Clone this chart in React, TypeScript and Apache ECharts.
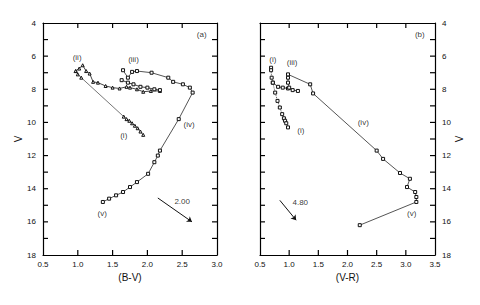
import React, { useEffect, useRef } from "react";
import * as echarts from "echarts";

// ---------- Panel (a): V vs (B-V) ----------
const aTrackI_x = [0.97, 1.0, 1.05, 1.66, 1.7, 1.74, 1.78, 1.82, 1.86, 1.9, 1.94];
const aTrackI_y = [6.9, 7.1, 7.3, 9.65, 9.8, 9.9, 10.05, 10.2, 10.35, 10.55, 10.75];

const aBand_x = [0.97, 1.02, 1.07, 1.12, 1.17, 1.22, 1.29, 1.4, 1.5, 1.6, 1.7, 1.75, 1.85, 1.94, 2.05, 2.18];
const aBand_y = [6.9, 6.75, 6.55, 6.9, 7.05, 7.55, 7.6, 7.8, 7.9, 7.95, 7.85, 7.9, 8.0, 8.15, 8.1, 8.1];

const aBand2_x = [1.63, 1.72, 1.8, 1.9, 2.0, 2.1, 2.18];
const aBand2_y = [7.45, 7.6, 7.7, 7.85, 7.9, 8.0, 8.05];

const aTrackIII_x = [1.65, 1.72, 1.78, 1.85, 2.06, 2.3, 2.37, 2.51, 2.61, 2.65, 2.45, 2.18, 2.15, 2.1, 2.01, 1.85, 1.75, 1.65, 1.55, 1.45, 1.36];
const aTrackIII_y = [6.85, 7.3, 6.95, 6.9, 7.0, 7.3, 7.55, 7.7, 7.9, 8.2, 9.8, 11.7, 12.0, 12.4, 13.1, 13.6, 13.9, 14.2, 14.4, 14.6, 14.8];

const aLabels = ["(ii)", "(iii)", "(i)", "(iv)", "(v)", "(a)", "2.00"];
const aLabel_x = [0.99, 1.8, 1.66, 2.6, 1.35, 2.78, 2.5];
const aLabel_y = [6.1, 6.2, 10.8, 10.1, 15.5, 4.7, 14.8];

const aArrow_x = [2.15, 2.64];
const aArrow_y = [14.56, 16.0];

// ---------- Panel (b): V vs (V-R) ----------
const bTrackI_x = [0.69, 0.69, 0.7, 0.72, 0.76, 0.8, 0.84, 0.88, 0.91, 0.93, 0.95, 0.98];
const bTrackI_y = [6.7, 6.85, 7.3, 7.6, 8.2, 8.7, 9.1, 9.5, 9.75, 9.9, 10.05, 10.3];

const bBand_x = [0.72, 0.81, 0.89, 0.98, 1.06, 1.15];
const bBand_y = [7.6, 7.85, 7.9, 7.95, 8.05, 8.1];

const bTrackIII_x = [1.0, 0.98, 0.98, 0.98, 1.36, 1.41, 2.5, 2.61, 2.9, 3.07, 3.02, 3.16, 3.18, 3.18, 2.21];
const bTrackIII_y = [7.9, 7.6, 7.3, 7.1, 7.7, 8.25, 11.7, 12.2, 13.05, 13.4, 13.9, 14.2, 14.5, 14.8, 16.2];

const bLabels = ["(i)", "(iii)", "(i)", "(iv)", "(v)", "(b)", "4.80"];
const bLabel_x = [0.72, 1.05, 1.2, 2.27, 3.1, 3.24, 1.19];
const bLabel_y = [6.2, 6.4, 10.5, 10.0, 15.5, 4.7, 14.85];

const bArrow_x = [0.84, 1.12];
const bArrow_y = [14.7, 15.9];

// ---------- Axes ----------
const yMin = 4;
const yMax = 18;
const aXMin = 0.5;
const aXMax = 3.0;
const bXMin = 0.5;
const bXMax = 3.5;
const xStep = 0.5;
const yTickVals = [5, 6, 7, 8, 9, 10, 11, 12, 13, 14, 15, 16, 17];
const aXTickVals = [1.0, 1.5, 2.0, 2.5];
const bXTickVals = [1.0, 1.5, 2.0, 2.5, 3.0];
const aXName = "(B-V)";
const bXName = "(V-R)";
const yName = "V";

const zip = (xs: number[], ys: number[]) => xs.map((x, i) => [x, ys[i]]);

const FONT = "Liberation Sans, Arial, sans-serif";
const INK = "#111";
const TICK = 5;

function xAx(grid: number, min: number, max: number, pos: "top" | "bottom", name?: string) {
  return {
    type: "value",
    gridIndex: grid,
    position: pos,
    min,
    max,
    interval: xStep,
    name: name || "",
    nameLocation: "middle",
    nameGap: 15,
    nameTextStyle: { fontFamily: FONT, fontSize: 10, color: INK },
    axisLine: { show: true, onZero: false, lineStyle: { color: "#000", width: 1.2 } },
    axisTick: { show: false },
    axisLabel: {
      show: pos === "bottom",
      fontFamily: FONT,
      fontSize: 8,
      color: INK,
      margin: 5,
      formatter: (v: number) => v.toFixed(1),
    },
    splitLine: { show: false },
  };
}

function yAx(grid: number, pos: "left" | "right", labels: boolean, gap: number) {
  return {
    type: "value",
    gridIndex: grid,
    position: pos,
    inverse: true,
    min: yMin,
    max: yMax,
    interval: 1,
    name: labels ? yName : "",
    nameLocation: "middle",
    nameGap: gap,
    nameRotate: 90,
    nameTextStyle: { fontFamily: FONT, fontSize: 10, color: INK },
    axisLine: { show: true, onZero: false, lineStyle: { color: "#000", width: 1.2 } },
    axisTick: { show: false },
    axisLabel: {
      show: labels,
      fontFamily: FONT,
      fontSize: 8,
      color: INK,
      margin: 7,
      formatter: (v: number) => (v % 2 === 0 ? String(v) : ""),
    },
    splitLine: { show: false },
  };
}

// inward tick marks on both sides of a panel, drawn as thin filled rects placed through the axes
function yTicks(xi: number, yi: number, xmin: number, xmax: number) {
  return {
    type: "custom",
    xAxisIndex: xi,
    yAxisIndex: yi,
    clip: false,
    silent: true,
    data: yTickVals.map((v) => [xmin, v]),
    renderItem: (_p: any, api: any) => {
      const v = api.value(1);
      const a = api.coord([xmin, v]);
      const b = api.coord([xmax, v]);
      const st = { fill: "#000" };
      return {
        type: "group",
        children: [
          { type: "rect", shape: { x: a[0], y: a[1] - 0.6, width: TICK, height: 1.2 }, style: st },
          { type: "rect", shape: { x: b[0] - TICK, y: b[1] - 0.6, width: TICK, height: 1.2 }, style: st },
        ],
      };
    },
    z: 6,
  };
}

function xTicks(xi: number, yi: number, vals: number[]) {
  return {
    type: "custom",
    xAxisIndex: xi,
    yAxisIndex: yi,
    clip: false,
    silent: true,
    data: vals.map((v) => [v, 10]),
    renderItem: (_p: any, api: any) => {
      const v = api.value(0);
      const a = api.coord([v, yMin]);
      const b = api.coord([v, yMax]);
      const st = { fill: "#000" };
      return {
        type: "group",
        children: [
          { type: "rect", shape: { x: a[0] - 0.6, y: a[1], width: 1.2, height: TICK }, style: st },
          { type: "rect", shape: { x: b[0] - 0.6, y: b[1] - TICK, width: 1.2, height: TICK }, style: st },
        ],
      };
    },
    z: 6,
  };
}

function track(xi: number, yi: number, data: number[][], symbol: string, lineColor: string, lineType = "solid") {
  return {
    type: "line",
    xAxisIndex: xi,
    yAxisIndex: yi,
    data,
    symbol,
    symbolSize: 3,
    showSymbol: true,
    itemStyle: { color: "#fff", borderColor: "#111", borderWidth: 1 },
    lineStyle: { color: lineColor, width: 1, type: lineType },
    z: 3,
  };
}

function labelSeries(xi: number, yi: number, names: string[], xs: number[], ys: number[], arrow: number[][]) {
  return {
    type: "scatter",
    xAxisIndex: xi,
    yAxisIndex: yi,
    symbolSize: 0,
    itemStyle: { color: "#000" },
    data: names.map((n, i) => ({ name: n, value: [xs[i], ys[i]] })),
    label: {
      show: true,
      position: "top",
      distance: -4,
      formatter: "{b}",
      fontFamily: FONT,
      fontSize: 8,
      color: "#000",
    },
    markLine: {
      silent: true,
      symbol: ["none", "arrow"],
      symbolSize: 5,
      label: { show: false },
      itemStyle: { color: INK },
      lineStyle: { color: INK, width: 1, type: "solid" },
      data: [[{ coord: arrow[0] }, { coord: arrow[1] }]],
    },
    z: 5,
  };
}

export default function App() {
  const ref = useRef<HTMLDivElement>(null);
  useEffect(() => {
    if (!ref.current) return;
    const chart = echarts.init(ref.current, undefined, { renderer: "svg" });
    chart.setOption({
      animation: false,
      backgroundColor: "#fff",
      grid: [
        { left: 35, top: 15, width: 174, height: 232 },
        { left: 252, top: 15, width: 175, height: 232 },
      ],
      xAxis: [
        xAx(0, aXMin, aXMax, "bottom", aXName),
        xAx(0, aXMin, aXMax, "top"),
        xAx(1, bXMin, bXMax, "bottom", bXName),
        xAx(1, bXMin, bXMax, "top"),
      ],
      yAxis: [
        yAx(0, "left", true, 17),
        yAx(0, "right", false, 0),
        yAx(1, "left", false, 0),
        yAx(1, "right", true, 13),
      ],
      series: [
        yTicks(0, 0, aXMin, aXMax),
        xTicks(0, 0, aXTickVals),
        yTicks(2, 2, bXMin, bXMax),
        xTicks(2, 2, bXTickVals),
        track(0, 0, zip(aTrackI_x, aTrackI_y), "triangle", "#777"),
        track(0, 0, zip(aBand_x, aBand_y), "triangle", "#444"),
        track(0, 0, zip(aBand2_x, aBand2_y), "rect", "#444"),
        track(0, 0, zip(aTrackIII_x, aTrackIII_y), "rect", "#555"),
        labelSeries(0, 0, aLabels, aLabel_x, aLabel_y, zip(aArrow_x, aArrow_y)),
        track(2, 2, zip(bTrackI_x, bTrackI_y), "rect", "#555", "dotted"),
        track(2, 2, zip(bBand_x, bBand_y), "rect", "#444"),
        track(2, 2, zip(bTrackIII_x, bTrackIII_y), "rect", "#555"),
        labelSeries(2, 2, bLabels, bLabel_x, bLabel_y, zip(bArrow_x, bArrow_y)),
      ],
    });
    return () => chart.dispose();
  }, []);
  return <div ref={ref} style={{ width: 464, height: 289 }} />;
}
